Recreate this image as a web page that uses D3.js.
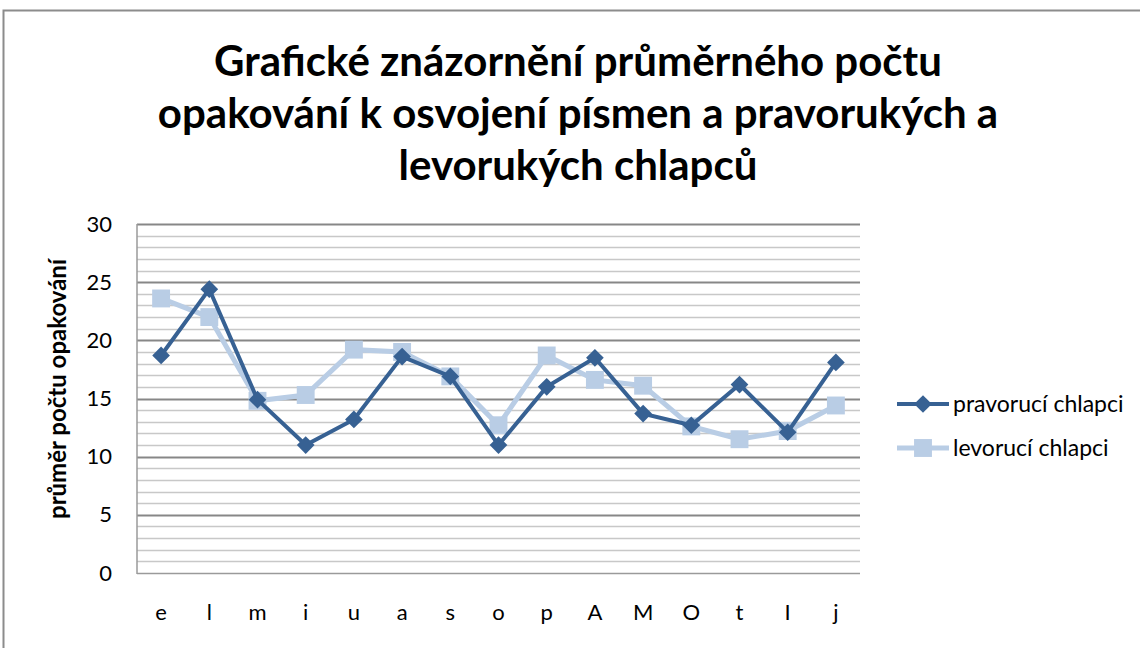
<!DOCTYPE html>
<html lang="cs">
<head>
    <meta charset="UTF-8">
    <title>Průměrný počet opakování</title>
    <script type="text/javascript" src="https://cdn.jsdelivr.net/npm/d3@7"></script>
    <style type="text/css">
        body { margin: 0; background: #fff; }
        text { font-family: Lato, "Open Sans", sans-serif; fill: #000; }
    </style>
</head>
<body>
    <script type="text/javascript">
        // data
        var letters = ["e", "l", "m", "i", "u", "a", "s", "o", "p", "A", "M", "O", "t", "I", "j"];
        var pravoruci = [18.7, 24.4, 14.9, 11.0, 13.2, 18.6, 16.9, 11.0, 16.0, 18.5, 13.7, 12.7, 16.2, 12.1, 18.1];
        var levoruci  = [23.6, 22.0, 14.8, 15.3, 19.2, 19.0, 16.9, 12.7, 18.7, 16.6, 16.1, 12.6, 11.5, 12.2, 14.4];
        var seriesNames = ["pravorucí chlapci", "levorucí chlapci"];
        var titleLines = ["Grafické znázornění průměrného počtu",
                          "opakování k osvojení písmen a pravorukých a",
                          "levorukých chlapců"];
        var yTicks = [0, 5, 10, 15, 20, 25, 30];

        var w = 1140, h = 648;
        var plotLeft = 137, plotRight = 860, plotTop = 224, plotBottom = 573;
        var darkBlue = "#376193", lightBlue = "#b9cde5";

        var svg = d3.select("body").append("svg")
            .attr("width", w)
            .attr("height", h);

        // outer frame
        svg.append("rect")
            .attr("x", 3.5).attr("y", 10.5)
            .attr("width", w + 10).attr("height", h + 10)
            .attr("fill", "#fff")
            .attr("stroke", "#8c8c8c")
            .attr("stroke-width", 2);

        var xScale = d3.scaleBand()
            .domain(letters)
            .range([plotLeft, plotRight]);

        var yScale = d3.scaleLinear()
            .domain([0, 30])
            .range([plotBottom, plotTop]);

        // minor gridlines
        svg.append("g")
            .selectAll("line")
            .data(d3.range(1, 30).filter(function(d) { return d % 5 !== 0; }))
            .enter()
            .append("line")
            .attr("x1", plotLeft).attr("x2", plotRight)
            .attr("y1", function(d) { return Math.round(yScale(d)) + 0.5; })
            .attr("y2", function(d) { return Math.round(yScale(d)) + 0.5; })
            .attr("stroke", "#c8c8c8")
            .attr("stroke-width", 1.5);

        // major gridlines
        svg.append("g")
            .selectAll("line")
            .data(yTicks.filter(function(d) { return d > 0; }))
            .enter()
            .append("line")
            .attr("x1", plotLeft).attr("x2", plotRight)
            .attr("y1", function(d) { return Math.round(yScale(d)) + 0.5; })
            .attr("y2", function(d) { return Math.round(yScale(d)) + 0.5; })
            .attr("stroke", "#878787")
            .attr("stroke-width", 2);

        // axes lines
        svg.append("line")
            .attr("x1", plotLeft).attr("x2", plotLeft)
            .attr("y1", plotTop).attr("y2", plotBottom + 1)
            .attr("stroke", "#9a9a9a").attr("stroke-width", 1.5);
        svg.append("line")
            .attr("x1", plotLeft).attr("x2", plotRight)
            .attr("y1", plotBottom + 0.5).attr("y2", plotBottom + 0.5)
            .attr("stroke", "#9a9a9a").attr("stroke-width", 1.5);

        // y tick labels
        var yAxis = d3.axisLeft(yScale).tickValues(yTicks).tickSize(0).tickPadding(25);
        var gy = svg.append("g")
            .attr("transform", "translate(" + plotLeft + ",0)")
            .call(yAxis);
        gy.select(".domain").remove();
        gy.selectAll("text")
            .style("font-family", "Lato, sans-serif")
            .style("font-size", "22px")
            .attr("fill", "#222");

        // x tick labels
        var xAxis = d3.axisBottom(xScale).tickSize(0).tickPadding(31);
        var gx = svg.append("g")
            .attr("transform", "translate(0," + plotBottom + ")")
            .call(xAxis);
        gx.select(".domain").remove();
        gx.selectAll("text")
            .style("font-family", "Lato, sans-serif")
            .style("font-size", "22px")
            .attr("fill", "#222");

        // y axis title
        svg.append("text")
            .attr("transform", "translate(58," + 389 + ") rotate(-90)")
            .attr("text-anchor", "middle")
            .attr("dy", "0.35em")
            .style("font-size", "24px")
            .style("font-weight", "bold")
            .text("průměr počtu opakování");

        // chart title
        svg.append("g")
            .selectAll("text")
            .data(titleLines)
            .enter()
            .append("text")
            .attr("x", 578)
            .attr("y", function(d, i) { return 76 + i * 52; })
            .attr("text-anchor", "middle")
            .style("font-size", "42px")
            .style("font-weight", "bold")
            .text(function(d) { return d; });

        var line = d3.line()
            .x(function(d, i) { return xScale(letters[i]) + xScale.bandwidth() / 2; })
            .y(function(d) { return yScale(d); });

        var diamond = d3.symbol().type(d3.symbolDiamond2).size(200);
        var square = d3.symbol().type(d3.symbolSquare).size(320);

        // levorucí (drawn first, behind)
        svg.append("path")
            .datum(levoruci)
            .attr("d", line)
            .attr("fill", "none")
            .attr("stroke", lightBlue)
            .attr("stroke-width", 5);
        svg.append("g")
            .selectAll("path")
            .data(levoruci)
            .enter()
            .append("path")
            .attr("d", square)
            .attr("transform", function(d, i) {
                return "translate(" + (xScale(letters[i]) + xScale.bandwidth() / 2) + "," + yScale(d) + ")";
            })
            .attr("fill", lightBlue);

        // pravorucí
        svg.append("path")
            .datum(pravoruci)
            .attr("d", line)
            .attr("fill", "none")
            .attr("stroke", darkBlue)
            .attr("stroke-width", 4);
        svg.append("g")
            .selectAll("path")
            .data(pravoruci)
            .enter()
            .append("path")
            .attr("d", diamond)
            .attr("transform", function(d, i) {
                return "translate(" + (xScale(letters[i]) + xScale.bandwidth() / 2) + "," + yScale(d) + ")";
            })
            .attr("fill", darkBlue);

        // legend
        var legend = svg.append("g")
            .selectAll("g")
            .data(seriesNames)
            .enter()
            .append("g")
            .attr("transform", function(d, i) { return "translate(897," + (404 + i * 44) + ")"; });
        legend.append("line")
            .attr("x1", 0).attr("x2", 52)
            .attr("stroke", function(d, i) { return i === 0 ? darkBlue : lightBlue; })
            .attr("stroke-width", function(d, i) { return i === 0 ? 4 : 5; });
        legend.append("path")
            .attr("transform", "translate(26,0)")
            .attr("d", function(d, i) { return i === 0 ? diamond() : square(); })
            .attr("fill", function(d, i) { return i === 0 ? darkBlue : lightBlue; });
        legend.append("text")
            .attr("x", 56)
            .attr("dy", "0.35em")
            .attr("fill", "#222")
            .style("font-size", "23px")
            .text(function(d) { return d; });
    </script>
</body>
</html>
